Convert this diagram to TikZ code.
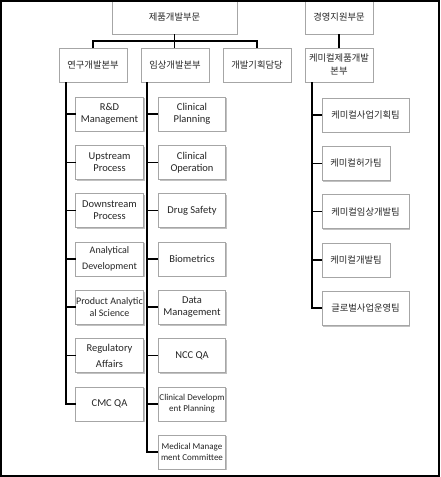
\documentclass[tikz,border=0pt]{standalone}
\usepackage{fontspec}
\setmainfont{Carlito}
\newfontfamily\kr{Noto Sans CJK KR}
\usetikzlibrary{positioning,shadows}

\begin{document}
\begin{tikzpicture}[x=1pt, y=-1pt,
        box/.style={rectangle, draw=black!35, fill=white, line width=0.6pt, inner sep=0pt, outer sep=0pt, minimum height=34pt, align=center, text=black!85, drop shadow={shadow xshift=1.3pt, shadow yshift=-1.3pt, fill=black!40, opacity=0.6}},
        krbox/.style={box, minimum width=68pt, font=\fontsize{9.3}{13}\selectfont\kr},
        enbox/.style={box, minimum width=67.5pt, font=\fontsize{10.5}{12}\selectfont},
        conn/.style={draw=black, line width=1.6pt}]

        \useasboundingbox (0,0) rectangle (440,477);
        \fill[white] (0,0) rectangle (440,477);

        \node[krbox, minimum width=125pt] (1) at (174.5,17) {제품개발부문};
        \node[krbox] (2) at (339,17) {경영지원부문};

        \node[krbox] (11) at (93,65) {연구개발본부};
        \node[krbox] (12) [right=14pt of 11] {임상개발본부};
        \node[krbox] (13) [right=14pt of 12] {개발기획담당};
        \node[krbox] (14) [right=14pt of 13] {케미컬제품개발\\본부};

        \node[enbox] (21) at (109.5,114) {R\&D\\Management};
        \node[enbox] (22) [below=14.3pt of 21] {Upstream\\Process};
        \node[enbox] (23) [below=14.3pt of 22] {Downstream\\Process};
        \node[enbox, font=\fontsize{10}{15.5}\selectfont] (24) [below=14.3pt of 23] {Analytical\\Development};
        \node[enbox, font=\fontsize{10}{11.5}\selectfont] (25) [below=14.3pt of 24] {Product Analytic\\al Science};
        \node[enbox, font=\fontsize{10.5}{16}\selectfont] (26) [below=14.3pt of 25] {Regulatory\\Affairs};
        \node[enbox] (27) [below=14.3pt of 26] {CMC QA};

        \node[enbox] (31) [right=15pt of 21] {Clinical\\Planning};
        \node[enbox] (32) [below=14.3pt of 31] {Clinical\\Operation};
        \node[enbox] (33) [below=14.3pt of 32] {Drug Safety};
        \node[enbox] (34) [below=14.3pt of 33] {Biometrics};
        \node[enbox] (35) [below=14.3pt of 34] {Data\\Management};
        \node[enbox] (36) [below=14.3pt of 35] {NCC QA};
        \node[enbox, font=\fontsize{9}{10.5}\selectfont] (37) [below=14.3pt of 36] {Clinical Developm\\ent Planning};
        \node[enbox, font=\fontsize{9}{10.5}\selectfont] (38) [below=14.3pt of 37] {Medical Manage\\ment Committee};

        \node[krbox, minimum width=87pt, anchor=north west] (41) at (322,98) {케미컬사업기획팀};
        \node[krbox] (42) [below right=14.3pt and 0pt of 41.south west] {케미컬허가팀};
        \node[krbox, minimum width=87pt] (43) [below right=14.3pt and 0pt of 42.south west] {케미컬임상개발팀};
        \node[krbox] (44) [below right=14.3pt and 0pt of 43.south west] {케미컬개발팀};
        \node[krbox, minimum width=87pt] (45) [below right=14.3pt and 0pt of 44.south west] {글로벌사업운영팀};

        \coordinate (bar) at (0,41);
        \coordinate (sl) at (66,0);
        \coordinate (sm) at (147,0);
        \coordinate (sr) at (312,0);

        \draw[conn] (1.south) -- (1.south |- 12.north);
        \draw[conn] (11.north) |- (bar -| 13.north) -- (13.north);
        \draw[conn] (2.south) -- (14.north);

        \draw[conn] (11.south -| sl) |- (27.west);
        \foreach \i in {21,...,26}
            \draw[conn] (sl |- \i.west) -- (\i.west);
        \draw[conn] (12.south -| sm) |- (38.west);
        \foreach \i in {31,...,37}
            \draw[conn] (sm |- \i.west) -- (\i.west);
        \draw[conn] (14.south -| sr) |- (45.west);
        \foreach \i in {41,...,44}
            \draw[conn] (sr |- \i.west) -- (\i.west);

        \draw[line width=1.5pt] (1,1) rectangle (439,476);

        \end{tikzpicture}
\end{document}
